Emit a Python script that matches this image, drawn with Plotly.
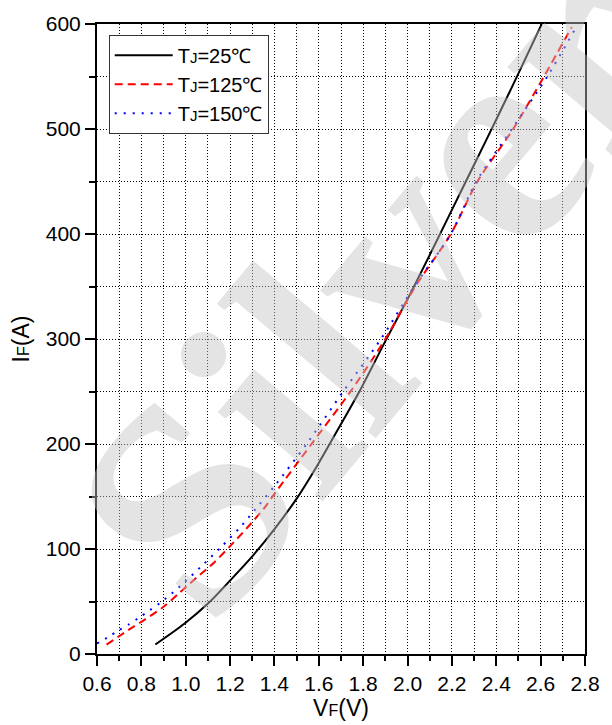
import plotly.graph_objects as go

# ---- data ----
vf_25 = [0.863, 0.995, 1.105, 1.2, 1.3, 1.4, 1.5, 1.6, 1.7, 1.783, 1.9, 2.0, 2.1, 2.2, 2.3, 2.4, 2.5, 2.605]
if_25 = [9, 29, 49, 70, 93, 119, 148, 182, 219, 250, 298, 338, 380, 423, 466, 509, 553, 600]

vf_125 = [0.643, 0.74, 0.817, 0.9, 0.965, 1.05, 1.127, 1.2, 1.276, 1.354, 1.405, 1.567, 1.743, 1.9, 2.035, 2.195, 2.315, 2.476, 2.615, 2.74]
if_125 = [9, 22.6, 33, 45, 57, 73, 87, 102.7, 120, 139, 154, 200, 250, 300, 350, 400, 450, 500, 550, 597]

vf_150 = [0.6, 0.647, 0.694, 0.742, 0.789, 0.836, 0.885, 0.977, 1.068, 1.16, 1.251, 1.332, 1.408, 1.545, 1.71, 1.88, 2.03, 2.195, 2.31, 2.47, 2.63, 2.755]
if_150 = [10, 15.7, 22, 28, 34.5, 41.4, 48.7, 65, 83, 102, 122, 142.5, 162, 200, 250, 300, 350, 400, 450, 500, 550, 595]

series_names = ["T<span style='font-size:15px'>J</span>=25℃",
                "T<span style='font-size:15px'>J</span>=125℃",
                "T<span style='font-size:15px'>J</span>=150℃"]

FONT = "Liberation Sans, Arial, sans-serif"

fig = go.Figure()
fig.add_trace(go.Scatter(x=vf_25, y=if_25, mode="lines", name=series_names[0],
                         line=dict(color="#000000", width=2, shape="spline", smoothing=0.8)))
fig.add_trace(go.Scatter(x=vf_125, y=if_125, mode="lines", name=series_names[1],
                         line=dict(color="#ff0000", width=2, dash="8px,5px", shape="spline", smoothing=0.8)))
fig.add_trace(go.Scatter(x=vf_150, y=if_150, mode="lines", name=series_names[2],
                         line=dict(color="#0000ff", width=2, dash="2px,7px", shape="spline", smoothing=0.8)))

grid = dict(showgrid=True, gridcolor="#000000", gridwidth=1, griddash="1px,2px")

fig.update_xaxes(range=[0.6, 2.8], tick0=0.6, dtick=0.2, tickformat=".1f",
                 ticks="outside", ticklen=10, tickwidth=2, tickcolor="#000",
                 showline=True, linewidth=2, linecolor="#000", mirror=True,
                 zeroline=False, tickfont=dict(family=FONT, size=21, color="#000"),
                 minor=dict(tick0=0.6, dtick=0.1, ticks="outside", ticklen=5, tickwidth=2,
                            tickcolor="#000", **grid),
                 title=dict(text="V<span style='font-size:16px'>F</span>(V)",
                            font=dict(family=FONT, size=23, color="#000"), standoff=2),
                 **grid)
fig.update_yaxes(range=[0, 600], tick0=0, dtick=100,
                 ticks="outside", ticklen=10, tickwidth=2, tickcolor="#000",
                 showline=True, linewidth=2, linecolor="#000", mirror=True,
                 zeroline=False, tickfont=dict(family=FONT, size=21, color="#000"),
                 minor=dict(tick0=0, dtick=50, ticks="outside", ticklen=6, tickwidth=2,
                            tickcolor="#000", **grid),
                 title=dict(text="I<span style='font-size:16px'>F</span>(A)",
                            font=dict(family=FONT, size=23, color="#000"), standoff=10),
                 **grid)

fig.add_annotation(text="<b>Silver</b>", xref="paper", yref="paper", x=0.57, y=0.59,
                   showarrow=False, textangle=-50,
                   font=dict(family="Liberation Serif, serif", size=300, color="rgba(195,195,195,0.45)"))

fig.update_layout(
    width=612, height=725,
    margin=dict(l=97, r=15, t=22, b=66),
    paper_bgcolor="white", plot_bgcolor="white",
    showlegend=True,
    legend=dict(x=0.024, y=0.983, xanchor="left", yanchor="top",
                bgcolor="white", bordercolor="#333", borderwidth=1,
                font=dict(family=FONT, size=20, color="#000"),
                tracegroupgap=0, itemwidth=58),
    font=dict(family=FONT, color="#000"),
)

fig.write_html("out.html")
